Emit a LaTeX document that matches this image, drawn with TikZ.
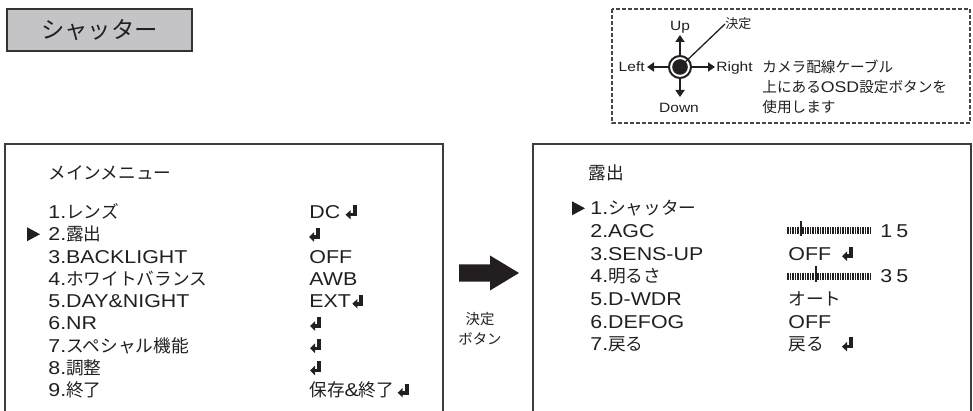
\documentclass[tikz,border=0pt]{standalone}
\usepackage{fontspec}
\setmainfont[FakeStretch=1.15]{Liberation Sans}
\newfontfamily\jpfont[Scale=0.95]{Noto Sans CJK JP}
\usetikzlibrary{arrows.meta,calc}

\tikzset{every picture/.style={line width=0.75pt}}
\tikzset{
	ink/.style={color={rgb, 255:red, 35; green, 31; blue, 32 }},
	menutext/.style={ink, anchor=base west, inner sep=0pt, font=\fontsize{18.6}{22}\selectfont},
	smalltext/.style={ink, inner sep=0pt, text height=9.7pt, text depth=0pt, font=\fontsize{13.5}{16}\selectfont},
	notetext/.style={ink, inner sep=0pt, align=left, font=\fontsize{15.4}{20}\selectfont},
	boxline/.style={draw={rgb, 255:red, 60; green, 60; blue, 60 }, line width=1.5pt},
	joyarrow/.style={ink, line width=2pt, -{Triangle[length=7pt,width=9pt]}},
	slidertick/.style={ink, line width=1.2pt},
	retkey/.pic={
		\fill[ink] (7,6.5) rectangle (11,-4.5);
		\fill[ink] (4,-1) rectangle (11,-4.5);
		\fill[ink] (0,-2.75) -- (5,2) -- (5,-7.5) -- cycle;
	}
}

\begin{document}
\begin{tikzpicture}[x=1pt,y=1pt,yscale=-1,xscale=1]
	\useasboundingbox (0,0) rectangle (973,411);

	% title
	\node [draw={rgb, 255:red, 51; green, 51; blue, 51 }, line width=1.5pt, fill={rgb, 255:red, 196; green, 196; blue, 198 }, text={rgb, 255:red, 35; green, 31; blue, 32 }, minimum width=185pt, minimum height=42pt, inner sep=0pt, font=\fontsize{24.6}{28}\selectfont\jpfont] (title) at (99.5,30) {シャッター};

	% OSD button
	\draw [color={rgb, 255:red, 70; green, 70; blue, 70 }, line width=1.1pt, dash pattern=on 4pt off 2pt] (612,9) rectangle (970,123);
	\node [circle, draw={rgb, 255:red, 35; green, 31; blue, 32 }, fill=white, line width=2pt, minimum size=22pt, inner sep=0pt] (joy) at (680,67) {};
	\node [circle, fill={rgb, 255:red, 35; green, 31; blue, 32 }, minimum size=15.6pt, inner sep=0pt] (knob) at (680,67) {};
	\coordinate (upTip) at (680,35);
	\coordinate (downTip) at (680,97);
	\coordinate (leftTip) at (647,67);
	\coordinate (rightTip) at (715,67);
	\draw [joyarrow] (joy) -- (upTip);
	\draw [joyarrow] (joy) -- (downTip);
	\draw [joyarrow] (joy) -- (leftTip);
	\draw [joyarrow] (joy) -- (rightTip);
	\node [smalltext] (up) at (680,26) {Up};
	\node [smalltext] (down) at (679,107.5) {Down};
	\node [smalltext, anchor=east] (left) at (645,67) {Left};
	\node [smalltext, anchor=west] (right) at (716,67) {Right};
	\node [smalltext, anchor=west, font=\fontsize{13.7}{16}\selectfont\jpfont] (kettei) at (725,24) {決定};
	\draw [ink, line width=1.3pt] (knob.center) -- (kettei.west);
	\node [notetext, anchor=west] (note) at (762,87) {{\jpfont カメラ配線ケーブル}\\{\jpfont 上にある}OSD{\jpfont 設定ボタンを}\\{\jpfont 使用します}};

	% main menu
	\draw [boxline] (5,415) -- (5,144) -- (443,144) -- (443,415);
	\node [menutext] (menuL) at (48,179.7) {{\jpfont メインメニュー}};
	\foreach \t [count=\i] in {{1.{\jpfont レンズ}}, {2.{\jpfont 露出}}, 3.BACKLIGHT, {4.{\jpfont ホワイトバランス}}, {5.DAY\&NIGHT}, 6.NR, {7.{\jpfont スペシャル機能}}, {8.{\jpfont 調整}}, {9.{\jpfont 終了}}}
		\node [menutext] (itemL\i) at (48,{196.45+22.25*\i}) {\t};
	\fill [ink] (27,227.25) -- (40,234.25) -- (27,241.25) -- cycle;
	\node [menutext] (valL1) at (309,218.7) {DC};
	\node [menutext] (valL3) at (309,263.2) {OFF};
	\node [menutext] (valL4) at (309,285.45) {AWB};
	\node [menutext] (valL5) at (309,307.7) {EXT};
	\node [menutext] (valL9) at (309,396.7) {{\jpfont 保存}\&{\jpfont 終了}};
	\pic at ($(valL1.base east)+(5,-6.7)$) {retkey};
	\pic at (309,234.25) {retkey};
	\pic at ($(valL5.base east)+(1,-6.7)$) {retkey};
	\pic at (310,323.25) {retkey};
	\pic at (310,345.5) {retkey};
	\pic at (310,367.75) {retkey};
	\pic at ($(valL9.base east)+(3,-6.7)$) {retkey};

	% enter
	\fill [ink] (459,264.5) -- (490,264.5) -- (490,255.5) -- (519,273) -- (490,290.5) -- (490,281.5) -- (459,281.5) -- cycle;
	\node [ink, align=center, inner sep=0pt, font=\fontsize{15.2}{20.5}\selectfont\jpfont] (enter) at (480,329) {決定\\ボタン};

	% exposure menu
	\draw [boxline] (533,415) -- (533,144) -- (971,144) -- (971,415);
	\node [menutext] (menuR) at (588,179.7) {{\jpfont 露出}};
	\foreach \t [count=\i] in {{1.{\jpfont シャッター}}, 2.AGC, 3.SENS-UP, {4.{\jpfont 明るさ}}, 5.D-WDR, 6.DEFOG, {7.{\jpfont 戻る}}}
		\node [menutext] (itemR\i) at (590,{192.4+22.6*\i}) {\t};
	\fill [ink] (572,201.3) -- (585,208.3) -- (572,215.3) -- cycle;
	\foreach \c/\m in {230.9/801, 276.1/816} {
		\foreach \k in {0,...,33}
			\draw [slidertick] ({788+2.5*\k},\c-3.5) -- ({788+2.5*\k},\c+3.5);
		\draw [ink, line width=1.6pt] (\m,\c-10) -- (\m,\c+5.6);
	}
	\node [menutext] (valR2) at (880,237.6) {1\hspace{4pt}5};
	\node [menutext] (valR3) at (788,260.2) {OFF};
	\node [menutext] (valR4) at (880,282.8) {3\hspace{4pt}5};
	\node [menutext] (valR5) at (788,305.4) {{\jpfont オート}};
	\node [menutext] (valR6) at (788,328) {OFF};
	\node [menutext] (valR7) at (788,350.6) {{\jpfont 戻る}};
	\pic at (842,253.5) {retkey};
	\pic at (842,343.9) {retkey};

\end{tikzpicture}
\end{document}
